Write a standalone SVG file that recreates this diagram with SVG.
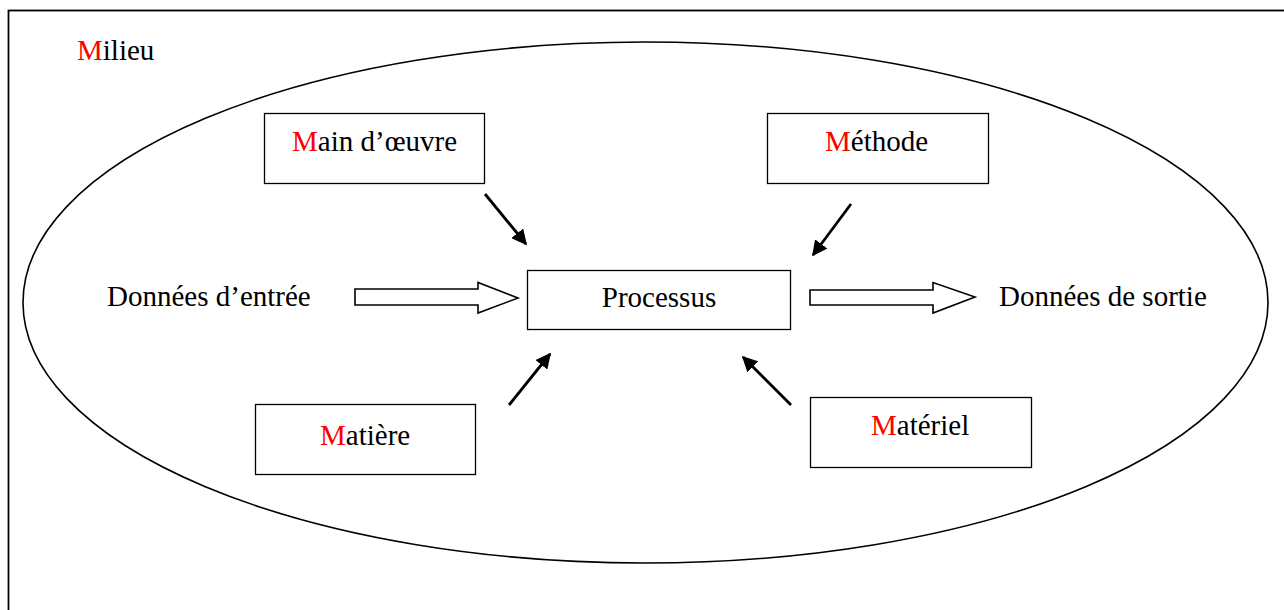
<svg xmlns="http://www.w3.org/2000/svg" width="1284" height="610" viewBox="0 0 1284 610">
<style>
.box{fill:#fff;stroke:#000;stroke-width:1.3}
.t{font-family:"Liberation Serif","Times New Roman",serif;font-size:29px;fill:#000}
.r{fill:#ff0000}
.ln{stroke:#000;stroke-width:2.8;fill:none}
.blk{fill:#fff;stroke:#000;stroke-width:1.6;stroke-linejoin:miter}
</style>
<defs>
<marker id="ah" viewBox="0 0 10 10" refX="9" refY="5" markerWidth="5.5" markerHeight="5.5" markerUnits="strokeWidth" orient="auto">
<path d="M0,0 L10,5 L0,10 z" fill="#000"/>
</marker>
</defs>
<rect x="8.5" y="10.5" width="1290" height="620" fill="#fff" stroke="#000" stroke-width="1.8"/>
<g id="milieu">
<ellipse cx="645.5" cy="302.5" rx="622.5" ry="260.5" fill="none" stroke="#000" stroke-width="1.6"/>
<text class="t" x="77" y="60"><tspan class="r">M</tspan>ilieu</text>
</g>
<g id="main-oeuvre">
<rect class="box" x="264.5" y="113.5" width="220" height="70"/>
<text class="t" x="292" y="151"><tspan class="r">M</tspan>ain d’œuvre</text>
</g>
<g id="methode">
<rect class="box" x="767.5" y="113.5" width="221" height="70"/>
<text class="t" x="825" y="151"><tspan class="r">M</tspan>éthode</text>
</g>
<g id="processus">
<rect class="box" x="527.5" y="270.5" width="263" height="59"/>
<text class="t" x="659" y="307" text-anchor="middle">Processus</text>
</g>
<g id="matiere">
<rect class="box" x="255.5" y="404.5" width="220" height="70"/>
<text class="t" x="320" y="445"><tspan class="r">M</tspan>atière</text>
</g>
<g id="materiel">
<rect class="box" x="810.5" y="397.5" width="221" height="70"/>
<text class="t" x="871" y="435"><tspan class="r">M</tspan>atériel</text>
</g>
<g id="entree">
<text class="t" x="107" y="306">Données d’entrée</text>
</g>
<g id="sortie">
<text class="t" x="999" y="306">Données de sortie</text>
</g>
<g id="connectors">
<path class="blk" d="M355,289 L478,289 L478,282.5 L518,298 L478,313 L478,305 L355,305 Z"/>
<path class="blk" d="M810,290 L933,290 L933,282.5 L975,297 L933,313 L933,305 L810,305 Z"/>
<line class="ln" x1="485" y1="194" x2="526" y2="244" marker-end="url(#ah)"/>
<line class="ln" x1="851" y1="204" x2="813" y2="255" marker-end="url(#ah)"/>
<line class="ln" x1="509" y1="405" x2="550" y2="354" marker-end="url(#ah)"/>
<line class="ln" x1="791" y1="405" x2="743" y2="357" marker-end="url(#ah)"/>
</g>
</svg>
